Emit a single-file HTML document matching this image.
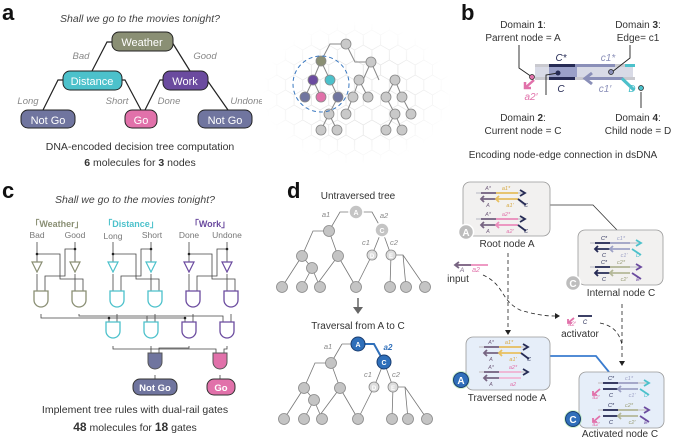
<!DOCTYPE html><html><head><meta charset="utf-8"><style>body{margin:0;background:#fff}svg{display:block;font-family:"Liberation Sans",sans-serif}</style></head><body>
<svg width="685" height="439" viewBox="0 0 685 439">
<defs>
<pattern id="hex" width="17.3" height="30" patternUnits="userSpaceOnUse"><path d="M0,5 L8.66,0 L17.3,5 M8.66,0 V-5 M0,5 V15 L8.66,20 L17.3,15 V5 M8.66,20 V30" fill="none" stroke="#e2e2e2" stroke-width="0.7"/></pattern>
<radialGradient id="fade"><stop offset="0.55" stop-color="#fff" stop-opacity="0"/><stop offset="1" stop-color="#fff" stop-opacity="1"/></radialGradient>
<g id="and"><path d="M-7,0 H7 V9 A7,7 0 0 1 -7,9 Z" fill="#fff" stroke-width="1.3"/></g>
<g id="dup">
<rect x="0" y="-1" width="50" height="2" fill="#d4d4d8"/>
</g>
</defs>
<g font-weight="bold" font-size="22" fill="#111"><text x="2" y="20">a</text><text x="461" y="20">b</text><text x="2" y="198">c</text><text x="287" y="198">d</text></g>

<!-- panel a -->
<text x="140" y="22" font-size="10.5" font-style="italic" fill="#444" text-anchor="middle">Shall we go to the movies tonight?</text>
<g stroke="#222" stroke-width="1.2" fill="none">
<path d="M112,42 H107 L92,71"/><path d="M172,42 L190,71"/>
<path d="M63,80 H58 L43,110"/><path d="M122,80 H125 L141,110"/>
<path d="M163,80 H160 L145,110"/><path d="M207,80 L228,110"/>
</g>
<g stroke="#222" stroke-width="1">
<rect x="112" y="32" width="61" height="19" rx="7" fill="#8a8f74"/>
<rect x="63" y="71" width="59" height="19" rx="7" fill="#4cc1cb"/>
<rect x="163" y="71" width="45" height="19" rx="7" fill="#6b4b9f"/>
<rect x="21" y="110" width="54" height="18" rx="7" fill="#70759f"/>
<rect x="125" y="110" width="32" height="18" rx="7" fill="#e171aa"/>
<rect x="198" y="110" width="54" height="18" rx="7" fill="#70759f"/>
</g>
<g fill="#fff" font-size="11" text-anchor="middle">
<text x="142" y="46">Weather</text><text x="92" y="85">Distance</text><text x="185" y="85">Work</text>
<text x="48" y="124">Not Go</text><text x="141" y="124">Go</text><text x="225" y="124">Not Go</text></g>
<g fill="#888" font-size="9.5" font-style="italic" text-anchor="middle">
<text x="81" y="59">Bad</text><text x="205" y="59">Good</text><text x="28" y="104">Long</text><text x="117" y="104">Short</text><text x="169" y="104">Done</text><text x="247" y="104">Undone</text></g>
<text x="140" y="150" font-size="10.5" fill="#333" text-anchor="middle">DNA-encoded decision tree computation</text>
<text x="140" y="166" font-size="10.5" fill="#333" text-anchor="middle"><tspan font-weight="bold">6</tspan> molecules for <tspan font-weight="bold">3</tspan> nodes</text>

<!-- hex grid + tree -->
<rect x="262" y="22" width="190" height="142" fill="url(#hex)"/>
<rect x="262" y="22" width="190" height="142" fill="url(#fade)"/>
<g stroke="#888" stroke-width="1" fill="none">
<path d="M321,61 L330,44 H346 L355,62 H371 L379,80 M371,62 L363,80"/>
<path d="M321,61 L313,80 M321,61 L330,80 M313,80 L305,97 M313,80 L321,97 M330,80 L338,97"/>
<path d="M359,80 L353,97 M359,80 L368,97 M395,80 L386,97 M395,80 L402,97"/>
<path d="M338,97 L329,114 M353,97 L346,114 M386,97 L395,114 M402,97 L411,114 M329,114 L321,130 M329,114 L337,130 M395,114 L386,130 M395,114 L402,130"/>
</g>
<g stroke="#888" stroke-width="0.8" fill="#c9c9c9">
<circle cx="346" cy="44" r="5"/><circle cx="371" cy="62" r="5"/><circle cx="359" cy="80" r="5"/><circle cx="395" cy="80" r="5"/>
<circle cx="353" cy="97" r="5"/><circle cx="368" cy="97" r="5"/><circle cx="386" cy="97" r="5"/><circle cx="402" cy="97" r="5"/>
<circle cx="329" cy="114" r="5"/><circle cx="346" cy="114" r="5"/><circle cx="395" cy="114" r="5"/><circle cx="411" cy="114" r="5"/>
<circle cx="321" cy="130" r="5"/><circle cx="337" cy="130" r="5"/><circle cx="386" cy="130" r="5"/><circle cx="402" cy="130" r="5"/>
<circle cx="321" cy="61" r="5" fill="#8a8f74"/><circle cx="313" cy="80" r="5" fill="#6b4b9f"/><circle cx="330" cy="80" r="5" fill="#4cc1cb"/>
<circle cx="305" cy="97" r="5" fill="#70759f"/><circle cx="321" cy="97" r="5" fill="#e171aa"/><circle cx="338" cy="97" r="5" fill="#70759f"/>
</g>
<circle cx="321" cy="84" r="28" fill="none" stroke="#3a78c0" stroke-width="1" stroke-dasharray="4,3"/>

<!-- panel b -->
<g font-size="10" fill="#333" text-anchor="middle">
<text x="523" y="28">Domain <tspan font-weight="bold">1</tspan>:</text><text x="523" y="41">Parrent node = A</text>
<text x="638" y="28">Domain <tspan font-weight="bold">3</tspan>:</text><text x="638" y="41">Edge= c1</text>
<text x="523" y="121">Domain <tspan font-weight="bold">2</tspan>:</text><text x="523" y="134">Current node = C</text>
<text x="638" y="121">Domain <tspan font-weight="bold">4</tspan>:</text><text x="638" y="134">Child node = D</text>
<text x="563" y="158">Encoding node-edge connection in dsDNA</text></g>
<rect x="535" y="65" width="98" height="13" fill="#d8dae6"/>
<rect x="549" y="65" width="28" height="13" fill="#9aa0c8"/>
<rect x="535" y="64" width="100" height="3" fill="#c9c9cf"/>
<rect x="549" y="64" width="26" height="3" fill="#262b55"/><rect x="575" y="64" width="40" height="3" fill="#8a8fb8"/><rect x="625" y="64" width="10" height="3" fill="#4cc1cb"/>
<rect x="535" y="77" width="100" height="3" fill="#c9c9cf"/>
<rect x="549" y="77" width="26" height="3" fill="#262b55"/>
<path d="M585,78.5 H622 L634,90" stroke="#8a8fb8" stroke-width="3" fill="none"/><path d="M622,78.5 L634,90" stroke="#4cc1cb" stroke-width="3"/>
<path d="M592,73 L585,78.5 L592,84" stroke="#8a8fb8" stroke-width="3" fill="none"/>
<path d="M534,80 L525,88 M525,82 V88 H531" stroke="#e171aa" stroke-width="2.5" fill="none"/>
<g stroke="#222" stroke-width="0.9" fill="none"><path d="M519,45 V68 L532,77"/><path d="M546,95 V75 L558,73"/><path d="M630,45 V58 L612,72"/><path d="M641,92 V108"/></g>
<circle cx="532" cy="77" r="2.5" fill="#e171aa" stroke="#222" stroke-width=".7"/><circle cx="558" cy="73" r="2.5" fill="#262b55"/><circle cx="611" cy="72" r="2.5" fill="#8a8fb8" stroke="#222" stroke-width=".7"/><circle cx="641" cy="88" r="2.5" fill="#4cc1cb" stroke="#222" stroke-width=".7"/>
<g font-size="10" font-style="italic" text-anchor="middle"><text x="561" y="61" fill="#262b55">C*</text><text x="608" y="61" fill="#8a8fb8">c1*</text><text x="561" y="92" fill="#262b55">C</text><text x="605" y="92" fill="#8a8fb8">c1′</text><text x="632" y="92" fill="#4cc1cb">D</text><text x="531" y="100" fill="#e171aa">a2′</text></g>

<!-- panel c -->
<text x="135" y="203" font-size="10.5" font-style="italic" fill="#444" text-anchor="middle">Shall we go to the movies tonight?</text>
<g font-size="9" font-weight="bold" text-anchor="middle"><text x="57" y="227" fill="#8a8f74">「Weather」</text><text x="131" y="227" fill="#4cc1cb">「Distance」</text><text x="210" y="227" fill="#6b4b9f">「Work」</text></g>
<g font-size="8.5" fill="#777" text-anchor="middle"><text x="37" y="238">Bad</text><text x="75" y="238">Good</text><text x="113" y="239">Long</text><text x="152" y="238">Short</text><text x="189" y="238">Done</text><text x="227" y="238">Undone</text></g>
<g stroke="#444" stroke-width="0.8" fill="none">
<path d="M37,242 V262 M75,242 V262 M113,242 V262 M151,242 V262 M189,242 V262 M227,242 V262"/>
<path d="M37,254 H60 V279 H83 V291"/><path d="M75,249 H65 V276 H45 V291"/><path d="M37,274 V291 M75,274 V291"/>
<path d="M113,254 H136 V279 H159 V291"/><path d="M151,249 H141 V276 H121 V291"/><path d="M113,274 V291 M151,274 V291"/>
<path d="M189,254 H212 V279 H235 V291"/><path d="M227,249 H217 V276 H197 V291"/><path d="M189,274 V291 M227,274 V291"/>
<path d="M41,314 V318 H109 V322"/><path d="M79,314 V316 H147 V322"/><path d="M117,314 V322 M155,314 V322 M193,314 V322 M231,314 V322"/>
<path d="M109,318 H185 V322"/><path d="M147,316 H223 V322"/>
<path d="M113,346 V349 H151 V353"/><path d="M189,346 V348 H159 V353"/><path d="M151,346 V349 H216 V353"/><path d="M227,346 V349 H224 V353"/>
<path d="M155,375 V379 M220,375 V379"/>
</g>
<g fill="#222"><circle cx="37" cy="254" r="1.3"/><circle cx="75" cy="249" r="1.3"/><circle cx="113" cy="254" r="1.3"/><circle cx="151" cy="249" r="1.3"/><circle cx="189" cy="254" r="1.3"/><circle cx="227" cy="249" r="1.3"/><circle cx="109" cy="318" r="1.3"/><circle cx="185" cy="318" r="1.3"/></g>
<g fill="#fff" stroke-width="1.2">
<path d="M32,262 H42 L37,272 Z" stroke="#8a8f74"/><path d="M70,262 H80 L75,272 Z" stroke="#8a8f74"/>
<path d="M108,262 H118 L113,272 Z" stroke="#4cc1cb"/><path d="M146,262 H156 L151,272 Z" stroke="#4cc1cb"/>
<path d="M184,262 H194 L189,272 Z" stroke="#6b4b9f"/><path d="M222,262 H232 L227,272 Z" stroke="#6b4b9f"/>
</g>
<g stroke-width="1.2">
<use href="#and" x="41" y="291" stroke="#8a8f74"/><use href="#and" x="79" y="291" stroke="#8a8f74"/>
<use href="#and" x="117" y="291" stroke="#4cc1cb"/><use href="#and" x="155" y="291" stroke="#4cc1cb"/>
<use href="#and" x="193" y="291" stroke="#6b4b9f"/><use href="#and" x="231" y="291" stroke="#6b4b9f"/>
<use href="#and" x="113" y="322" stroke="#4cc1cb"/><use href="#and" x="151" y="322" stroke="#4cc1cb"/>
<use href="#and" x="189" y="322" stroke="#6b4b9f"/><use href="#and" x="227" y="322" stroke="#6b4b9f"/>
</g>
<path d="M148,353 H162 V362 A7,7 0 0 1 148,362 Z" fill="#70759f" stroke="#555"/>
<path d="M213,353 H227 V362 A7,7 0 0 1 213,362 Z" fill="#e171aa" stroke="#555"/>
<rect x="133" y="379" width="44" height="16" rx="7" fill="#70759f" stroke="#333"/><rect x="207" y="379" width="28" height="16" rx="7" fill="#e171aa" stroke="#333"/>
<text x="155" y="391" font-size="9.5" font-weight="bold" fill="#fff" text-anchor="middle">Not Go</text><text x="221" y="391" font-size="9.5" font-weight="bold" fill="#fff" text-anchor="middle">Go</text>
<text x="135" y="413" font-size="10.5" fill="#333" text-anchor="middle">Implement tree rules with dual-rail gates</text>
<text x="135" y="431" font-size="10.5" fill="#333" text-anchor="middle"><tspan font-weight="bold" font-size="12">48</tspan> molecules for <tspan font-weight="bold" font-size="12">18</tspan> gates</text>

<!-- panel d trees -->
<text x="358" y="199" font-size="10" fill="#333" text-anchor="middle">Untraversed tree</text>
<text x="358" y="329" font-size="10" fill="#333" text-anchor="middle">Traversal from A to C</text>
<path d="M358,298 V309" stroke="#666" stroke-width="1.5"/><path d="M353,307 L358,314 L363,307 Z" fill="#666"/>
<g id="tree1" stroke="#777" stroke-width="0.8" fill="none">
<path d="M349,212 H340 L329,231 M363,212 H372 L382,230"/>
<path d="M329,231 H313 L302,256 M329,231 L338,256 M382,230 L372,255 M382,230 L391,255"/>
<path d="M302,256 L282,287 M302,256 L312,268 M312,268 L302,287 M312,268 L320,287 M338,256 L315,287 M338,256 L356,287"/>
<path d="M372,255 L356,287 M391,255 H403 L425,287 M391,255 L390,287 M403,255 L406,287"/>
</g>
<g stroke="#888" stroke-width="0.8" fill="#c4c4c4">
<circle cx="329" cy="231" r="5.5"/><circle cx="302" cy="256" r="5.5"/><circle cx="338" cy="256" r="5.5"/><circle cx="312" cy="268" r="5.5"/>
<circle cx="282" cy="287" r="5.5"/><circle cx="302" cy="287" r="5.5"/><circle cx="320" cy="287" r="5.5"/><circle cx="356" cy="287" r="5.5"/><circle cx="390" cy="287" r="5.5"/><circle cx="406" cy="287" r="5.5"/><circle cx="425" cy="287" r="5.5"/>
<circle cx="372" cy="255" r="5" fill="#ddd"/><circle cx="391" cy="255" r="5" fill="#ddd"/>
<circle cx="356" cy="212" r="7" fill="#c4c4c4" stroke="#fff" stroke-width="1.5"/><circle cx="382" cy="230" r="7" stroke="#fff" stroke-width="1.5"/>
</g>
<g font-size="7" fill="#fff" text-anchor="middle" font-weight="bold"><text x="356" y="215">A</text><text x="382" y="233">C</text><text x="372" y="258" font-size="6">D</text><text x="391" y="258" font-size="6">E</text></g>
<g font-size="7.5" fill="#888" font-style="italic" text-anchor="middle"><text x="326" y="217">a1</text><text x="384" y="218">a2</text><text x="366" y="245">c1</text><text x="394" y="245">c2</text></g>
<g transform="translate(2,132)">
<g stroke="#777" stroke-width="0.8" fill="none">
<path d="M340,212 L329,231 M349,212 H340"/>
<path d="M329,231 H313 L302,256 M329,231 L338,256 M382,230 L372,255 M382,230 L391,255"/>
<path d="M302,256 L282,287 M302,256 L312,268 M312,268 L302,287 M312,268 L320,287 M338,256 L315,287 M338,256 L356,287"/>
<path d="M372,255 L356,287 M391,255 H403 L425,287 M391,255 L390,287 M403,255 L406,287"/>
</g>
<path d="M363,212 H372 L382,230" stroke="#2f6fba" stroke-width="2" fill="none"/>
<g stroke="#888" stroke-width="0.8" fill="#c4c4c4">
<circle cx="329" cy="231" r="5.5"/><circle cx="302" cy="256" r="5.5"/><circle cx="338" cy="256" r="5.5"/><circle cx="312" cy="268" r="5.5"/>
<circle cx="282" cy="287" r="5.5"/><circle cx="302" cy="287" r="5.5"/><circle cx="320" cy="287" r="5.5"/><circle cx="356" cy="287" r="5.5"/><circle cx="390" cy="287" r="5.5"/><circle cx="406" cy="287" r="5.5"/><circle cx="425" cy="287" r="5.5"/>
<circle cx="372" cy="255" r="5" fill="#ddd"/><circle cx="391" cy="255" r="5" fill="#ddd"/>
<circle cx="356" cy="212" r="7" fill="#2f6fba" stroke="#1a3d70" stroke-width="1"/><circle cx="382" cy="230" r="7" fill="#2f6fba" stroke="#1a3d70" stroke-width="1"/>
</g>
<g font-size="7" fill="#fff" text-anchor="middle" font-weight="bold"><text x="356" y="215">A</text><text x="382" y="233">C</text><text x="372" y="258" font-size="6">D</text><text x="391" y="258" font-size="6">E</text></g>
<g font-size="7.5" fill="#888" font-style="italic" text-anchor="middle"><text x="326" y="217">a1</text><text x="366" y="245">c1</text><text x="394" y="245">c2</text></g>
<text x="386" y="218" font-size="8" fill="#2f6fba" font-weight="bold" font-style="italic" text-anchor="middle">a2</text>
</g>

<!-- panel d right: connectors -->
<path d="M550,205 H593 L617,230" stroke="#333" stroke-width="0.8" fill="none"/>
<path d="M550,356 H596 L609,372" stroke="#3a7ccf" stroke-width="1.8" fill="none"/>
<g stroke="#222" stroke-width="0.8" stroke-dasharray="4,3" fill="none">
<path d="M508,253 V330"/><path d="M483,275 C505,285 500,300 520,310 C540,316 550,316 555,316"/><path d="M622,304 V360"/><path d="M600,323 C615,326 620,335 622,345"/></g>
<g fill="#222"><path d="M505,330 L508,335 L511,330 Z"/><path d="M555,313 L560,316 L555,319 Z"/><path d="M619,361 L622,366 L625,361 Z"/></g>
<!-- boxes -->
<rect x="463" y="182" width="87" height="54" rx="7" fill="#f2f1f0" stroke="#999" stroke-width="0.8"/>
<rect x="578" y="230" width="85" height="55" rx="7" fill="#f2f1f0" stroke="#999" stroke-width="0.8"/>
<rect x="466" y="337" width="84" height="53" rx="7" fill="#e6eef9" stroke="#999" stroke-width="0.8"/>
<rect x="579" y="372" width="85" height="56" rx="7" fill="#e6eef9" stroke="#999" stroke-width="0.8"/>
<!-- duplex generic drawing -->
<g stroke-width="1.8" fill="none">
<!-- root A -->
<path d="M476,193 H525" stroke="#d0d0d6"/><path d="M481,193 H496" stroke="#776582"/><path d="M496,193 H518" stroke="#e8c060"/><path d="M520,190 L525,193 L520,196" stroke="#262b55"/>
<path d="M481,199 H518 L524,205" stroke="#d0d0d6"/><path d="M481,199 H496 M484,196 L481,199 L484,202" stroke="#776582"/><path d="M496,199 H518 M499,196 L496,199 L499,202" stroke="#e8c060"/><path d="M518,199 L526,205" stroke="#262b55"/>
<path d="M476,219 H525" stroke="#d0d0d6"/><path d="M481,219 H496" stroke="#776582"/><path d="M496,219 H518" stroke="#ec8cbc"/><path d="M520,216 L525,219 L520,222" stroke="#262b55"/>
<path d="M481,225 H496 M484,222 L481,225 L484,228" stroke="#776582"/><path d="M496,225 H518 M499,222 L496,225 L499,228" stroke="#ec8cbc"/><path d="M518,225 L526,231" stroke="#262b55"/>
<!-- internal C -->
<path d="M590,243 H640" stroke="#d0d0d6"/><path d="M595,243 H610" stroke="#262b55"/><path d="M610,243 H630" stroke="#9ea2c6"/><path d="M636,240 L641,243 L636,246" stroke="#4cc1cb"/>
<path d="M595,249 H610 M598,246 L595,249 L598,252" stroke="#262b55"/><path d="M610,249 H630 M613,246 L610,249 L613,252" stroke="#9ea2c6"/><path d="M632,249 L641,255" stroke="#4cc1cb"/>
<path d="M590,267 H640" stroke="#d0d0d6"/><path d="M595,267 H610" stroke="#262b55"/><path d="M610,267 H630" stroke="#b4b898"/><path d="M636,264 L641,267 L636,270" stroke="#6b4b9f"/>
<path d="M595,273 H610 M598,270 L595,273 L598,276" stroke="#262b55"/><path d="M610,273 H630 M613,270 L610,273 L613,276" stroke="#b4b898"/><path d="M632,273 L641,279" stroke="#6b4b9f"/>
<!-- traversed A -->
<path d="M479,347 H528" stroke="#d0d0d6"/><path d="M484,347 H499" stroke="#776582"/><path d="M499,347 H521" stroke="#e8c060"/><path d="M523,344 L528,347 L523,350" stroke="#262b55"/>
<path d="M484,353 H499 M487,350 L484,353 L487,356" stroke="#776582"/><path d="M499,353 H521 M502,350 L499,353 L502,356" stroke="#e8c060"/><path d="M521,353 L529,359" stroke="#262b55"/>
<path d="M479,372 H528" stroke="#d0d0d6"/><path d="M484,372 H499" stroke="#776582"/><path d="M499,372 H521" stroke="#f2b4d4"/><path d="M523,369 L528,372 L523,375" stroke="#262b55"/>
<path d="M484,378 H499 M487,375 L484,378 L487,381" stroke="#776582"/><path d="M499,378 H521" stroke="#f2b4d4"/>
<!-- activated C -->
<path d="M598,383 H648" stroke="#d0d0d6"/><path d="M603,383 H618" stroke="#262b55"/><path d="M618,383 H638" stroke="#9ea2c6"/><path d="M644,380 L649,383 L644,386" stroke="#4cc1cb"/>
<path d="M603,389 H618" stroke="#262b55"/><path d="M618,389 H638 M621,386 L618,389 L621,392" stroke="#9ea2c6"/><path d="M640,389 L649,395" stroke="#4cc1cb"/><path d="M600,389 L593,395 M593,391 V395 H597" stroke="#e171aa"/>
<path d="M598,410 H648" stroke="#d0d0d6"/><path d="M603,410 H618" stroke="#262b55"/><path d="M618,410 H638" stroke="#b4b898"/><path d="M644,407 L649,410 L644,413" stroke="#6b4b9f"/>
<path d="M603,416 H618" stroke="#262b55"/><path d="M618,416 H638 M621,413 L618,416 L621,419" stroke="#b4b898"/><path d="M640,416 L649,422" stroke="#6b4b9f"/><path d="M600,416 L593,422 M593,418 V422 H597" stroke="#e171aa"/>
<!-- input / activator -->
<path d="M457,265 H488" stroke="#ec8cbc"/><path d="M455,265 H471 M459,262 L455,265 L459,268" stroke="#776582"/>
<path d="M578,316 H592" stroke="#262b55"/><path d="M574,318 L568,323 M568,319 V323 H572" stroke="#e171aa"/>
</g>
<g font-size="5.5" font-style="italic" text-anchor="middle">
<text x="488" y="190" fill="#776582">A*</text><text x="506" y="190" fill="#d6a840">a1*</text><text x="488" y="207" fill="#776582">A</text><text x="510" y="207" fill="#d6a840">a1′</text><text x="526" y="207" fill="#262b55">C</text>
<text x="488" y="216" fill="#776582">A*</text><text x="506" y="216" fill="#e171aa">a2*</text><text x="488" y="233" fill="#776582">A</text><text x="510" y="233" fill="#e171aa">a2′</text><text x="526" y="233" fill="#262b55">C</text>
<text x="604" y="240" fill="#262b55">C*</text><text x="621" y="240" fill="#9ea2c6">c1*</text><text x="604" y="257" fill="#262b55">C</text><text x="624" y="257" fill="#9ea2c6">c1′</text><text x="638" y="257" fill="#4cc1cb">D</text>
<text x="604" y="264" fill="#262b55">C*</text><text x="621" y="264" fill="#9a9e78">c2*</text><text x="604" y="281" fill="#262b55">C</text><text x="624" y="281" fill="#9a9e78">c2′</text><text x="638" y="281" fill="#6b4b9f">E</text>
<text x="491" y="344" fill="#776582">A*</text><text x="509" y="344" fill="#d6a840">a1*</text><text x="491" y="361" fill="#776582">A</text><text x="513" y="361" fill="#d6a840">a1′</text><text x="529" y="361" fill="#262b55">C</text>
<text x="491" y="369" fill="#776582">A*</text><text x="513" y="369" fill="#e171aa">a2*</text><text x="491" y="386" fill="#776582">A</text><text x="513" y="386" fill="#e171aa">a2</text>
<text x="611" y="380" fill="#262b55">C*</text><text x="629" y="380" fill="#9ea2c6">c1*</text><text x="611" y="397" fill="#262b55">C</text><text x="632" y="397" fill="#9ea2c6">c1′</text><text x="646" y="397" fill="#4cc1cb">D</text><text x="596" y="399" fill="#e171aa">a2′</text>
<text x="611" y="407" fill="#262b55">C*</text><text x="629" y="407" fill="#9a9e78">c2*</text><text x="611" y="424" fill="#262b55">C</text><text x="632" y="424" fill="#9a9e78">c2′</text><text x="646" y="424" fill="#6b4b9f">E</text><text x="596" y="426" fill="#e171aa">a2′</text>
<text x="462" y="272" fill="#776582" font-size="6.5">A</text><text x="476" y="272" fill="#e171aa" font-size="7">a2</text>
<text x="572" y="326" fill="#e171aa" font-size="6">a2′</text><text x="585" y="324" fill="#262b55" font-size="6">C</text>
</g>
<g font-size="10" fill="#333" text-anchor="middle"><text x="507" y="247">Root node A</text><text x="621" y="296">Internal node C</text><text x="458" y="282">input</text><text x="580" y="337">activator</text><text x="507" y="401">Traversed node A</text><text x="620" y="437">Activated node C</text></g>
<!-- node circles -->
<g stroke-width="1.5">
<circle cx="466" cy="232" r="7.5" fill="#bdbdbd" stroke="#fff"/><circle cx="573" cy="283" r="7.5" fill="#bdbdbd" stroke="#fff"/>
<circle cx="461" cy="380" r="9" fill="#8be08a" opacity="0.4" stroke="none"/><circle cx="573" cy="419" r="9" fill="#8be08a" opacity="0.4" stroke="none"/>
<circle cx="461" cy="380" r="7.5" fill="#2f6fba" stroke="#1a3d70" stroke-width="1"/><circle cx="573" cy="419" r="7.5" fill="#2f6fba" stroke="#1a3d70" stroke-width="1"/>
</g>
<g font-size="10" font-weight="bold" fill="#fff" text-anchor="middle"><text x="466" y="236">A</text><text x="573" y="287">C</text><text x="461" y="384">A</text><text x="573" y="423">C</text></g>
</svg></body></html>
